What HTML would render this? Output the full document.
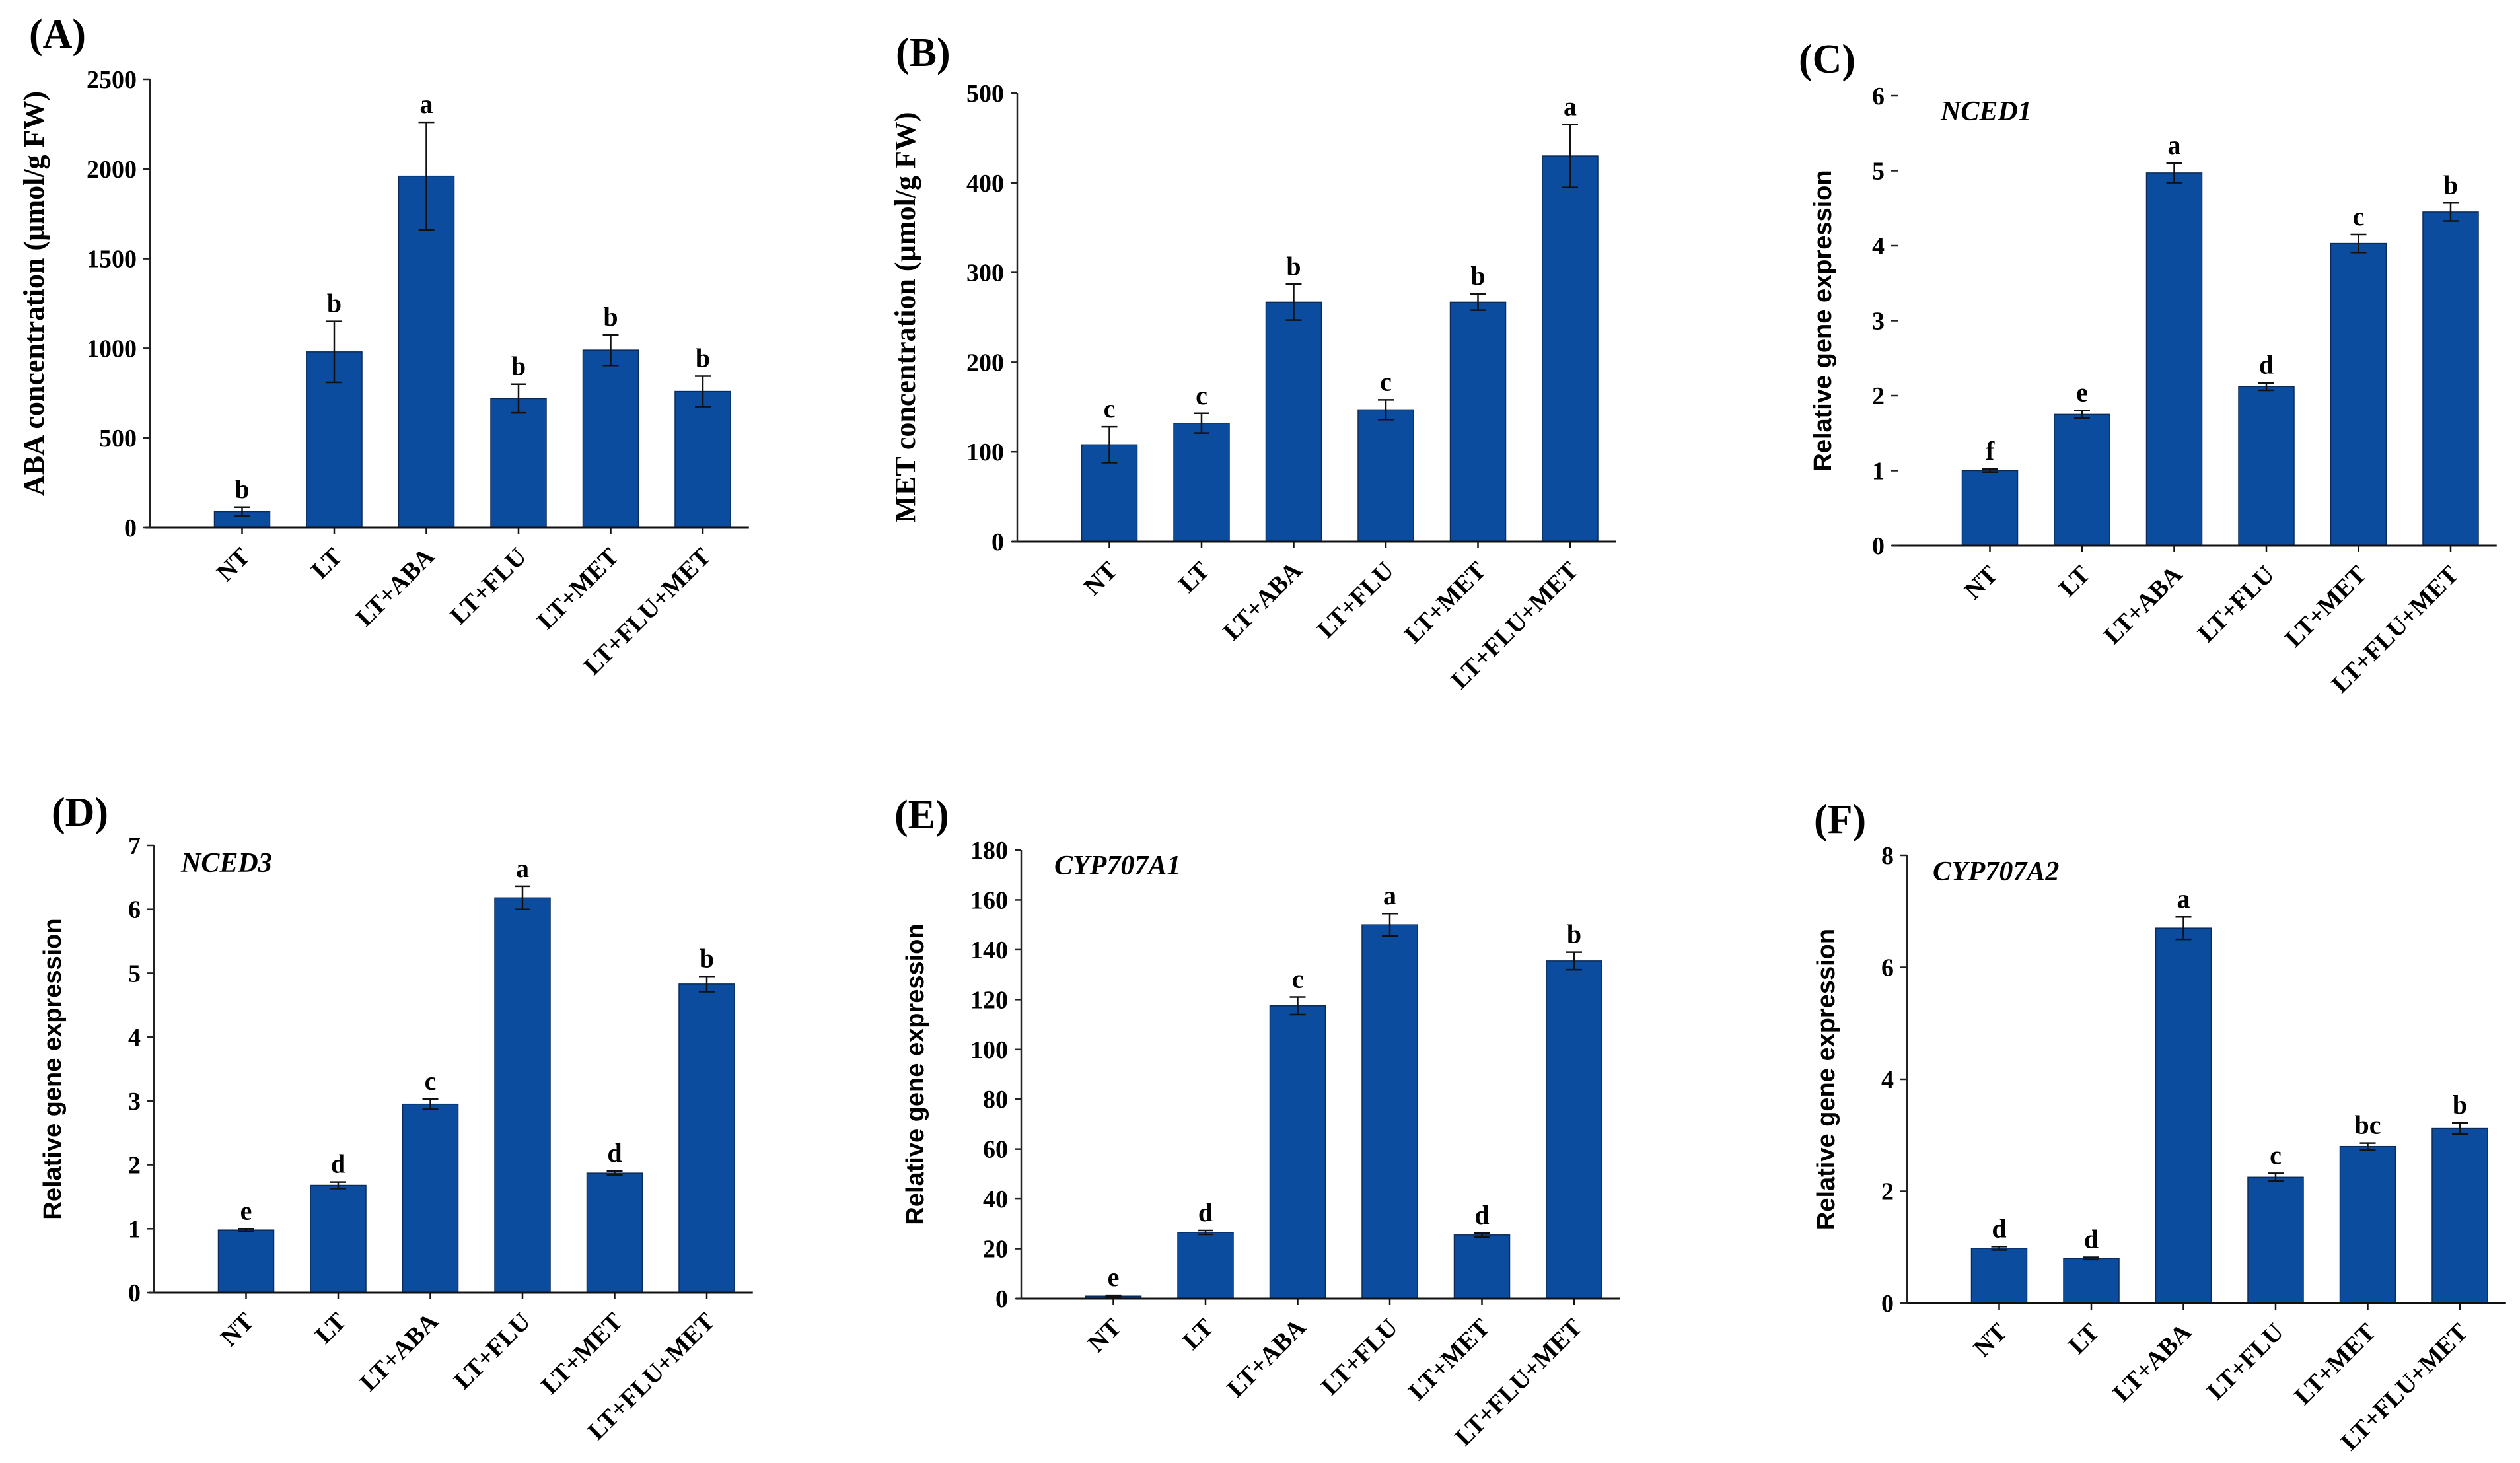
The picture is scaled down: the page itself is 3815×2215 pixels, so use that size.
<!DOCTYPE html>
<html><head><meta charset="utf-8"><style>
html,body{margin:0;padding:0;background:#fff}
svg{display:block}
</style></head><body>
<svg id="fig" width="3815" height="2215" viewBox="0 0 3815 2215" xmlns="http://www.w3.org/2000/svg"></svg>
<script>
const categories = ["NT","LT","LT+ABA","LT+FLU","LT+MET","LT+FLU+MET"];

const abaValues = [90, 980, 1960, 720, 990, 760];
const abaErrors = [25, 170, 300, 80, 85, 85];
const abaLetters = ["b","b","a","b","b","b"];
const abaTicks = [0, 500, 1000, 1500, 2000, 2500];

const metValues = [108, 132, 267, 147, 267, 430];
const metErrors = [20, 11, 20, 11, 9, 35];
const metLetters = ["c","c","b","c","b","a"];
const metTicks = [0, 100, 200, 300, 400, 500];

const nced1Values = [1.0, 1.75, 4.97, 2.12, 4.03, 4.45];
const nced1Errors = [0.02, 0.05, 0.13, 0.05, 0.12, 0.12];
const nced1Letters = ["f","e","a","d","c","b"];
const nced1Ticks = [0, 1, 2, 3, 4, 5, 6];

const nced3Values = [0.98, 1.68, 2.95, 6.18, 1.87, 4.83];
const nced3Errors = [0.02, 0.05, 0.08, 0.18, 0.03, 0.12];
const nced3Letters = ["e","d","c","a","d","b"];
const nced3Ticks = [0, 1, 2, 3, 4, 5, 6, 7];

const cyp1Values = [1, 26.5, 117.5, 150, 25.5, 135.5];
const cyp1Errors = [0.3, 0.8, 3.5, 4.5, 0.8, 3.5];
const cyp1Letters = ["e","d","c","a","d","b"];
const cyp1Ticks = [0, 20, 40, 60, 80, 100, 120, 140, 160, 180];

const cyp2Values = [0.98, 0.8, 6.7, 2.25, 2.8, 3.12];
const cyp2Errors = [0.03, 0.02, 0.2, 0.07, 0.06, 0.1];
const cyp2Letters = ["d","d","a","c","bc","b"];
const cyp2Ticks = [0, 2, 4, 6, 8];

const NS = "http://www.w3.org/2000/svg";
const svg = document.getElementById("fig");
function mk(tag, attrs, parent, text){
  const e = document.createElementNS(NS, tag);
  for (const k in attrs) e.setAttribute(k, attrs[k]);
  if (text !== undefined) e.textContent = text;
  (parent||svg).appendChild(e);
  return e;
}
const SERIF = '"Liberation Serif", serif';
const SANS = '"Liberation Sans", sans-serif';

function panel(cfg){
  const g = mk("g", {});
  
  
  const max = cfg.ticks[cfg.ticks.length-1];
  const y = v => cfg.zeroY - (v / max) * (cfg.zeroY - cfg.topY);
  const step = 139.5;
  const x = i => cfg.axisX + step * (i + 1);
  const axisEnd = cfg.axisX + step * 6.5;

  const lab = mk("text", {x: cfg.labX, y: cfg.labY, "font-family": SERIF, "font-weight": "bold", "font-size": 62}, g, cfg.label);
  
  

  if (cfg.gene) {
    const gn = mk("text", {x: cfg.geneX, y: cfg.geneY, "font-family": SERIF, "font-weight": "bold", "font-style": "italic", "font-size": 42}, g, cfg.gene);
    
    
  }

  cfg.values.forEach((v, i) => {
    const r = mk("rect", {x: x(i) - 42, y: y(v), width: 84, height: cfg.zeroY - y(v), fill: "#0b4c9e", stroke: "#0a2a5a", "stroke-width": 1.5}, g);
    
    
    const e = cfg.errors[i];
    const eb = mk("path", {d: `M${x(i)},${y(v+e)}V${y(v-e)}M${x(i)-12},${y(v+e)}H${x(i)+12}M${x(i)-12},${y(v-e)}H${x(i)+12}`, stroke: "#111", "stroke-width": 2.5, fill: "none"}, g);
    
    
    const lt = mk("text", {x: x(i), y: y(v+e) - 14, "text-anchor": "middle", "font-family": SERIF, "font-weight": "bold", "font-size": 40}, g, cfg.letters[i]);
    
    
    mk("line", {x1: x(i), x2: x(i), y1: cfg.zeroY, y2: cfg.zeroY + 10, stroke: "#111", "stroke-width": 2.5}, g);
    const xl = mk("text", {x: 0, y: 0, "text-anchor": "end", "font-family": SERIF, "font-weight": "bold", "font-size": 38,
      transform: `translate(${x(i)+14},${cfg.zeroY+46}) rotate(-45)`}, g, categories[i]);
    
    
  });

  const xa = mk("line", {x1: cfg.axisX - 8, x2: axisEnd, y1: cfg.zeroY, y2: cfg.zeroY, stroke: "#111", "stroke-width": 3}, g);
  
  
  if (!cfg.noYLine) {
    const ya = mk("line", {x1: cfg.axisX, x2: cfg.axisX, y1: cfg.topY, y2: cfg.zeroY, stroke: "#222", "stroke-width": 2.5}, g);
    
    
  }
  cfg.ticks.forEach(t => {
    mk("line", {x1: cfg.axisX - 10, x2: cfg.axisX, y1: y(t), y2: y(t), stroke: "#222", "stroke-width": 2.5}, g);
    const tl = mk("text", {x: cfg.axisX - 20, y: y(t) + 13, "text-anchor": "end", "font-family": SERIF, "font-weight": "bold", "font-size": 38}, g, String(t));
    
    
  });
  const cy = (cfg.topY + cfg.zeroY) / 2 + (cfg.titleShift || 0);
  const yt = mk("text", {x: 0, y: 0, "text-anchor": "middle", "font-family": cfg.titleFont, "font-weight": "bold", "font-size": cfg.titleSize,
    transform: `translate(${cfg.titleX},${cy}) rotate(-90)`}, g, cfg.title);
  
  
}

panel({name:"panel-a-aba", label:"(A)", labX:44, labY:72, axisX:227, topY:120, zeroY:799,
  values:abaValues, errors:abaErrors, letters:abaLetters, ticks:abaTicks,
  title:"ABA concentration (µmol/g FW)", titleFont:SERIF, titleSize:44, titleX:66, titleShift:-15});
panel({name:"panel-b-met", label:"(B)", labX:1356, labY:100, axisX:1540, topY:141, zeroY:820,
  values:metValues, errors:metErrors, letters:metLetters, ticks:metTicks,
  title:"MET concentration (µmol/g FW)", titleFont:SERIF, titleSize:44, titleX:1385, titleShift:0});
panel({name:"panel-c-nced1", label:"(C)", labX:2723, labY:110, axisX:2873, topY:145, zeroY:826, noYLine:true,
  gene:"NCED1", geneX:2938, geneY:182,
  values:nced1Values, errors:nced1Errors, letters:nced1Letters, ticks:nced1Ticks,
  title:"Relative gene expression", titleFont:SANS, titleSize:38, titleX:2772, titleShift:0});
panel({name:"panel-d-nced3", label:"(D)", labX:78, labY:1250, axisX:233, topY:1280, zeroY:1957,
  gene:"NCED3", geneX:274, geneY:1320,
  values:nced3Values, errors:nced3Errors, letters:nced3Letters, ticks:nced3Ticks,
  title:"Relative gene expression", titleFont:SANS, titleSize:38, titleX:92, titleShift:0});
panel({name:"panel-e-cyp707a1", label:"(E)", labX:1354, labY:1254, axisX:1546, topY:1287, zeroY:1966,
  gene:"CYP707A1", geneX:1596, geneY:1324,
  values:cyp1Values, errors:cyp1Errors, letters:cyp1Letters, ticks:cyp1Ticks,
  title:"Relative gene expression", titleFont:SANS, titleSize:38, titleX:1398, titleShift:0});
panel({name:"panel-f-cyp707a2", label:"(F)", labX:2746, labY:1261, axisX:2887, topY:1295, zeroY:1973,
  gene:"CYP707A2", geneX:2926, geneY:1333,
  values:cyp2Values, errors:cyp2Errors, letters:cyp2Letters, ticks:cyp2Ticks,
  title:"Relative gene expression", titleFont:SANS, titleSize:38, titleX:2777, titleShift:0});
</script>
</body></html>
